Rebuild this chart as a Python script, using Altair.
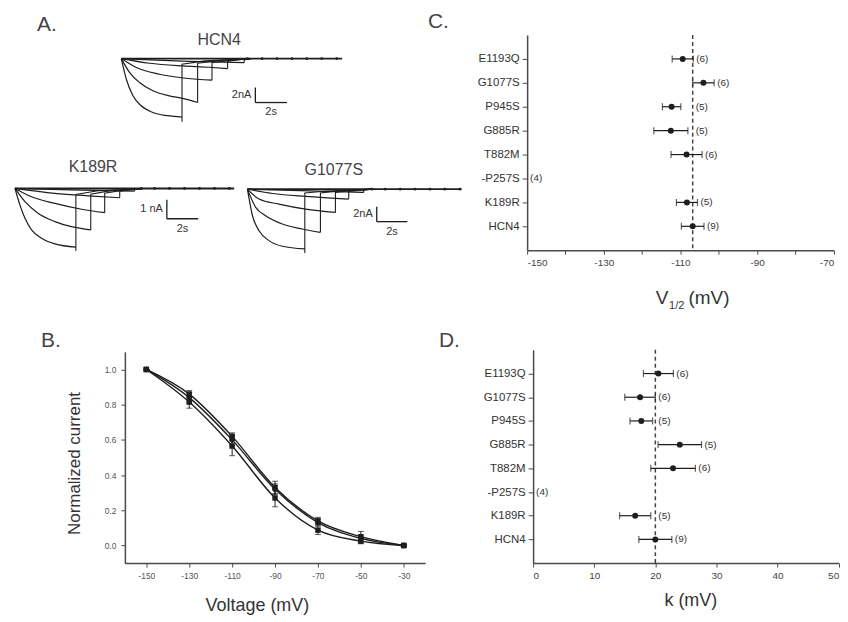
import altair as alt
import numpy as np
import pandas as pd

FONT = "Liberation Sans"
INK = "#1e1e1e"
AXC = "#4a4a4a"
TXT = "#333333"

# ---------------- Panel A: current traces (time in s, current in nA) ----------------
# "act": activating part of the sweep, "tail": vertical step at pulse end + tail back to 0
HCN4_TRACES = {
    "t1": {"act": ([0, 0.32, 0.74, 1.26, 2.0, 2.95, 3.85],
                   [0, -2.72, -4.91, -6.23, -7.11, -7.54, -7.72]),
           "tail": ([3.85, 3.85, 5.3, 8.2], [-8.33, -0.75, -0.3, 0])},
    "t2": {"act": ([0, 0.53, 1.16, 2.0, 3.05, 3.89, 4.84],
                   [0, -1.84, -3.16, -4.25, -4.91, -5.26, -5.79]),
           "tail": ([4.84, 4.84, 6.2, 8.2], [-5.79, -0.61, -0.25, 0])},
    "t3": {"act": ([0, 0.95, 2.42, 4.1, 5.75],
                   [0, -1.18, -2.06, -2.59, -2.85]),
           "tail": ([5.75, 5.75, 7.0, 8.2], [-2.85, -0.53, -0.2, 0])},
    "t4": {"act": ([0, 1.79, 3.89, 5.58, 6.74],
                   [0, -0.61, -0.96, -1.14, -1.32]),
           "tail": ([6.74, 6.74, 7.6, 8.2], [-1.32, -0.35, -0.12, 0])},
    "t5": {"act": ([0, 3.47, 7.79], [0, -0.31, -0.53]),
           "tail": ([7.79, 7.79, 8.2], [-0.53, -0.18, 0])},
}
K189R_TRACES = {
    "t1": {"act": ([0, 0.32, 0.64, 1.06, 1.70, 2.55, 3.89],
                   [0, -0.88, -1.58, -2.19, -2.63, -2.93, -3.10]),
           "tail": ([3.89, 3.89, 5.3, 8.2], [-3.30, -0.32, -0.12, 0])},
    "t2": {"act": ([0, 0.64, 1.49, 2.55, 3.61, 4.84],
                   [0, -0.70, -1.32, -1.75, -2.02, -2.19]),
           "tail": ([4.84, 4.84, 6.2, 8.2], [-2.19, -0.30, -0.10, 0])},
    "t3": {"act": ([0, 1.06, 2.55, 4.25, 5.73],
                   [0, -0.44, -0.79, -1.10, -1.28]),
           "tail": ([5.73, 5.73, 7.0, 8.2], [-1.28, -0.25, -0.08, 0])},
    "t4": {"act": ([0, 2.55, 4.67, 6.69], [0, -0.26, -0.39, -0.49]),
           "tail": ([6.69, 6.69, 7.6, 8.2], [-0.49, -0.15, -0.05, 0])},
    "t5": {"act": ([0, 3.5, 7.64], [0, -0.08, -0.14]),
           "tail": ([7.64, 7.64, 8.2], [-0.14, -0.05, 0])},
}
G1077S_TRACES = {
    "t1": {"act": ([0, 0.33, 0.76, 1.41, 2.28, 3.75],
                   [0, -3.56, -5.56, -6.89, -7.64, -8.0]),
           "tail": ([3.75, 3.75, 5.2, 8.2], [-8.53, -0.5, -0.25, 0])},
    "t2": {"act": ([0, 0.54, 1.19, 2.28, 3.58, 4.77],
                   [0, -2.44, -3.56, -4.67, -5.33, -5.78]),
           "tail": ([4.77, 4.77, 6.1, 8.2], [-5.78, -0.5, -0.2, 0])},
    "t3": {"act": ([0, 0.76, 2.06, 3.8, 5.75],
                   [0, -1.33, -2.0, -2.67, -3.11]),
           "tail": ([5.75, 5.75, 7.0, 8.2], [-3.11, -0.45, -0.15, 0])},
    "t4": {"act": ([0, 1.63, 3.8, 6.62], [0, -0.58, -0.98, -1.33]),
           "tail": ([6.62, 6.62, 7.6, 8.2], [-1.33, -0.3, -0.1, 0])},
    "t5": {"act": ([0, 3.5, 7.6], [0, -0.2, -0.44]),
           "tail": ([7.6, 7.6, 8.2], [-0.44, -0.1, 0])},
}
BASELINE_T = [0, 14]
BASELINE_I = [0, 0]
HCN4_DOTS = [8.0, 8.93, 9.87, 10.82, 11.76, 12.71, 13.66]
K189R_DOTS = [8.07, 8.92, 9.87, 10.83, 11.78, 12.74, 13.69]
G1077S_DOTS = [8.13, 9.0, 9.98, 10.95, 11.93, 12.9, 13.88]
# scale bars: (time of vertical bar, top current, bottom current)
HCN4_BAR = (8.5, -3.8, -5.8)
K189R_BAR = (9.7, -0.6, -1.6)
G1077S_BAR = (8.45, -2.35, -4.35)

# ---------------- Panel B: normalized activation ----------------
B_VOLT = [-150, -130, -110, -90, -70, -50, -30]
B_SERIES = ["G1077S", "HCN4", "K189R"]
B_MEAN = {
    "G1077S": [1.0, 0.86, 0.62, 0.33, 0.14, 0.05, 0.0],
    "HCN4": [1.0, 0.84, 0.60, 0.32, 0.13, 0.04, 0.0],
    "K189R": [1.0, 0.815, 0.565, 0.27, 0.087, 0.025, 0.0],
}
B_ERR = {
    "G1077S": [0.0, 0.02, 0.02, 0.035, 0.02, 0.03, 0.005],
    "HCN4": [0.0, 0.03, 0.03, 0.03, 0.02, 0.02, 0.005],
    "K189R": [0.0, 0.035, 0.055, 0.05, 0.025, 0.015, 0.005],
}

# ---------------- Panels C and D ----------------
MUTANTS = ["E1193Q", "G1077S", "P945S", "G885R", "T882M", "P257S", "K189R", "HCN4"]
N_CELLS = [6, 6, 5, 5, 6, 4, 5, 9]
V_HALF = [-109.4, -104.0, -112.3, -112.5, -108.4, np.nan, -108.3, -106.8]
V_HALF_SEM = [2.75, 2.8, 2.4, 4.45, 4.05, np.nan, 2.75, 2.95]
V_REF = -106.8
K_SLOPE = [20.5, 17.5, 17.7, 24.0, 22.9, np.nan, 16.7, 20.0]
K_SLOPE_SEM = [2.45, 2.5, 1.85, 3.55, 3.65, np.nan, 2.55, 2.7]
K_REF = 20.0

W, H = 832, 606


def blank():
    return alt.Chart(alt.Data(values=[{}]))


def txt(text, x, y, size, angle=0, align="center", baseline="middle", color=TXT):
    return blank().mark_text(text=text, font=FONT, fontSize=size, angle=angle,
                             align=align, baseline=baseline, color=color).encode(
        x=alt.value(x), y=alt.value(y))


def trace_panel(traces, dot_times, bar, x_range, y_dom, y_range, na_text):
    xs = alt.Scale(domain=[0, 14], range=x_range, nice=False, zero=False)
    ys = alt.Scale(domain=y_dom, range=y_range, nice=False, zero=False)

    def X(f):
        return alt.X(f, type="quantitative", scale=xs, axis=None)

    def Y(f):
        return alt.Y(f, type="quantitative", scale=ys, axis=None)

    act_rows, tail_rows = [], []
    for name, parts in traces.items():
        for k, (t, i) in enumerate(zip(*parts["act"])):
            act_rows.append({"trace": name, "seq": k, "t": t, "I": i})
        for k, (t, i) in enumerate(zip(*parts["tail"])):
            tail_rows.append({"trace": name, "seq": k, "t": t, "I": i})
    act_df = pd.DataFrame(act_rows)
    tail_df = pd.DataFrame(tail_rows)
    base_df = pd.DataFrame({"t": BASELINE_T, "I": BASELINE_I})
    dot_df = pd.DataFrame({"t": dot_times, "I": [0.0] * len(dot_times)})
    bar_df = pd.DataFrame([{"t": bar[0], "t2": bar[0] + 2, "tm": bar[0] + 1,
                            "top": bar[1], "bot": bar[2],
                            "mid": (bar[1] + bar[2]) / 2,
                            "lab": na_text, "slab": "2s"}])
    act = alt.Chart(act_df).mark_line(color=INK, strokeWidth=1.2,
                                      interpolate="monotone").encode(
        x=X("t"), y=Y("I"), detail="trace:N", order="seq:Q")
    tail = alt.Chart(tail_df).mark_line(color=INK, strokeWidth=1.1).encode(
        x=X("t"), y=Y("I"), detail="trace:N", order="seq:Q")
    base = alt.Chart(base_df).mark_line(color=INK, strokeWidth=1.9).encode(
        x=X("t"), y=Y("I"))
    dots = alt.Chart(dot_df).mark_circle(color=INK, size=8, opacity=1).encode(
        x=X("t"), y=Y("I"))
    vbar = alt.Chart(bar_df).mark_rule(color=INK, strokeWidth=1.3).encode(
        x=X("t"), y=Y("top"), y2="bot")
    hbar = alt.Chart(bar_df).mark_rule(color=INK, strokeWidth=1.3).encode(
        x=X("t"), x2="t2", y=Y("bot"))
    nlab = alt.Chart(bar_df).mark_text(align="right", dx=-4, baseline="middle",
                                       font=FONT, fontSize=11, color=TXT).encode(
        x=X("t"), y=Y("mid"), text="lab:N")
    slab = alt.Chart(bar_df).mark_text(align="center", dy=10, baseline="middle",
                                       font=FONT, fontSize=11, color=TXT).encode(
        x=X("tm"), y=Y("bot"), text="slab:N")
    return alt.layer(act, tail, base, dots, vbar, hbar, nlab, slab)


panel_hcn4 = trace_panel(HCN4_TRACES, HCN4_DOTS, HCN4_BAR, [113.7, 335.3],
                         [-8.5, 0], [114.3, 49.7], "2nA")
panel_k189r = trace_panel(K189R_TRACES, K189R_DOTS, K189R_BAR, [7, 227],
                          [-3.6, 0], [248.4, 180], "1 nA")
panel_g1077s = trace_panel(G1077S_TRACES, G1077S_DOTS, G1077S_BAR, [240.3, 455.3],
                           [-9, 0], [248.2, 180.7], "2nA")

# ---------------- Panel B ----------------
rows = []
for s in B_SERIES:
    for v, m, e in zip(B_VOLT, B_MEAN[s], B_ERR[s]):
        rows.append({"series": s, "v": v, "m": m, "lo": m - e, "hi": m + e})
dfB = pd.DataFrame(rows)
xB = alt.Scale(domain=[-160, -20], range=[117.3, 418.7], nice=False, zero=False)
yB = alt.Scale(domain=[-0.1, 1.1], range=[556, 344], nice=False, zero=False)
axBx = alt.Axis(orient="bottom", offset=-50, values=B_VOLT, labelExpr="'' + datum.value",
                title=None, grid=False, domainColor=AXC, domainWidth=1.5, tickColor=AXC,
                tickSize=4, labelFont=FONT, labelFontSize=8.5, labelColor="#555",
                labelPadding=4)
axBy = alt.Axis(orient="left", offset=-117.3, values=[0, 0.2, 0.4, 0.6, 0.8, 1.0],
                format=".1f", title=None, grid=False, domainColor=AXC, domainWidth=1.5,
                tickColor=AXC, tickSize=4, labelFont=FONT, labelFontSize=8.5,
                labelColor="#555", labelPadding=5)
encBx = alt.X("v:Q", scale=xB, axis=axBx)
b_lines = alt.Chart(dfB).mark_line(interpolate="monotone", color=INK, strokeWidth=1.4).encode(
    x=encBx, y=alt.Y("m:Q", scale=yB, axis=axBy), detail="series:N")
b_err = alt.Chart(dfB).mark_rule(color=INK, strokeWidth=1).encode(
    x=encBx, y=alt.Y("lo:Q", scale=yB, axis=axBy), y2="hi")
b_cap_lo = alt.Chart(dfB).mark_tick(orient="horizontal", size=6, thickness=1, color=INK).encode(
    x=encBx, y=alt.Y("lo:Q", scale=yB, axis=axBy))
b_cap_hi = alt.Chart(dfB).mark_tick(orient="horizontal", size=6, thickness=1, color=INK).encode(
    x=encBx, y=alt.Y("hi:Q", scale=yB, axis=axBy))
b_pts = alt.Chart(dfB).mark_point(filled=True, size=30, opacity=1, color=INK).encode(
    x=encBx, y=alt.Y("m:Q", scale=yB, axis=axBy),
    shape=alt.Shape("series:N", scale=alt.Scale(domain=B_SERIES,
                                                range=["square", "circle", "square"]),
                    legend=None))
panel_b = alt.layer(b_lines, b_err, b_cap_lo, b_cap_hi, b_pts)


# ---------------- Panels C and D ----------------
def forest(values, sems, ref, dom, x_range, y_range, x_off, y_off, ticks, label_expr):
    df = pd.DataFrame({"mut": MUTANTS, "n": N_CELLS, "m": values, "s": sems})
    df["lo"] = df["m"] - df["s"]
    df["hi"] = df["m"] + df["s"]
    df["lab_x"] = np.where(df["m"].isna(), dom[0], np.maximum(df["hi"].fillna(ref), ref))
    df["lab"] = "(" + df["n"].astype(str) + ")"
    xs = alt.Scale(domain=dom, range=x_range, nice=False, zero=False)
    ys = alt.Scale(type="point", domain=MUTANTS[::-1], range=y_range, padding=1)
    ax_x = alt.Axis(orient="bottom", offset=x_off, values=ticks, labelExpr=label_expr,
                    title=None, grid=False, domainColor=AXC, domainWidth=1.5,
                    tickColor=AXC, tickSize=4, labelFont=FONT, labelFontSize=10,
                    labelColor="#444", labelPadding=3)
    ax_y = alt.Axis(orient="left", offset=y_off, title=None, grid=False,
                    domainColor=AXC, domainWidth=1.5, tickColor=AXC, tickSize=5,
                    labelFont=FONT, labelFontSize=11.5, labelColor=TXT, labelPadding=3,
                    labelExpr="datum.value == 'P257S' ? '-P257S' : datum.value")
    Yc = alt.Y("mut:N", scale=ys, axis=ax_y)
    ref_df = pd.DataFrame({"ref": [ref]})
    ref_rule = alt.Chart(ref_df).mark_rule(color="#444", strokeWidth=1.5,
                                           strokeDash=[4, 3]).encode(
        x=alt.X("ref:Q", scale=xs, axis=ax_x), y=alt.value(y_range[1]),
        y2=alt.value(y_range[0]))
    err = alt.Chart(df).mark_rule(color=INK, strokeWidth=1.2).encode(
        x=alt.X("lo:Q", scale=xs, axis=ax_x), x2="hi", y=Yc)
    cap_lo = alt.Chart(df).mark_tick(size=7, thickness=1.2, color=INK).encode(
        x=alt.X("lo:Q", scale=xs, axis=ax_x), y=Yc)
    cap_hi = alt.Chart(df).mark_tick(size=7, thickness=1.2, color=INK).encode(
        x=alt.X("hi:Q", scale=xs, axis=ax_x), y=Yc)
    pts = alt.Chart(df).mark_circle(size=36, color=INK, opacity=1).encode(
        x=alt.X("m:Q", scale=xs, axis=ax_x), y=Yc)
    labs = alt.Chart(df).mark_text(align="left", dx=3, baseline="middle", font=FONT,
                                   fontSize=10, color=TXT).encode(
        x=alt.X("lab_x:Q", scale=xs, axis=ax_x), y=Yc, text="lab:N")
    return alt.layer(ref_rule, err, cap_lo, cap_hi, pts, labs)


panel_c = forest(V_HALF, V_HALF_SEM, V_REF, [-150, -70], [521, 828.7], [242, 26],
                 -364, -521, list(range(-150, -69, 10)),
                 "abs(datum.value) % 20 == 10 ? '' + datum.value : ''")
panel_d = forest(K_SLOPE, K_SLOPE_SEM, K_REF, [0, 50], [527, 833.7], [556, 342],
                 -50, -527, [0, 10, 20, 30, 40, 50], "'' + datum.value")

# ---------------- text annotations ----------------
texts = [
    txt("A.", 39, 15.5, 21, color="#444"),
    txt("B.", 43, 333, 21, color="#444"),
    txt("C.", 432, 12.5, 21, color="#444"),
    txt("D.", 443, 333, 21, color="#444"),
    txt("HCN4", 212, 31.3, 16, color="#444"),
    txt("K189R", 85.3, 158.7, 16, color="#444"),
    txt("G1077S", 327, 162, 16, color="#444"),
    txt("Normalized current", 67, 456, 17, angle=270),
    txt("Voltage (mV)", 250.3, 598.7, 18),
    txt("k (mV)", 685.3, 593.7, 18),
    txt("V", 650, 296, 19, align="left", baseline="alphabetic"),
    txt("1/2", 663.5, 301, 11, align="left", baseline="alphabetic"),
    txt("(mV)", 683, 296, 19, align="left", baseline="alphabetic"),
]

chart = alt.layer(panel_hcn4, panel_k189r, panel_g1077s, panel_b, panel_c, panel_d,
                  *texts).resolve_scale(
    x="independent", y="independent"
).properties(
    width=W, height=H, padding=0
).configure_view(stroke=None)

chart.save("out.html", embed_options={"renderer": "svg", "actions": False})
